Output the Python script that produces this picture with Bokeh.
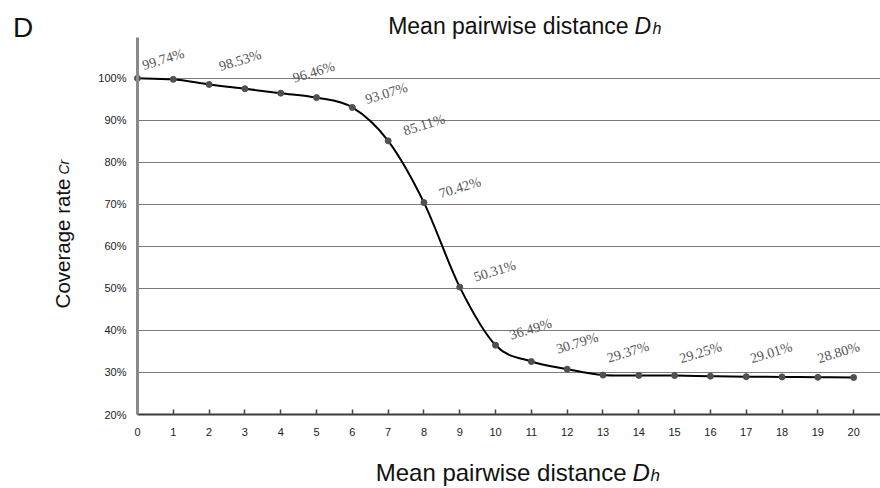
import numpy as np
from bokeh.plotting import figure
from bokeh.models import (ColumnDataSource, Range1d, FixedTicker, PrintfTickFormatter, Label,
                          LinearAxis, Grid)
from bokeh.core.properties import value
from bokeh.embed import file_html
from bokeh.resources import INLINE

# ---- data ----
distance = list(range(21))
coverage = [100.00, 99.74, 98.53, 97.50, 96.46, 95.40, 93.07, 85.11, 70.42, 50.31,
            36.49, 32.60, 30.79, 29.37, 29.30, 29.25, 29.12, 29.01, 28.95, 28.86, 28.80]
labeled_idx = [1, 2, 4, 6, 7, 8, 9, 10, 12, 13, 15, 17, 20]
x_ticks = list(range(21))
y_ticks = [20, 30, 40, 50, 60, 70, 80, 90, 100]
grid_ticks = [30, 40, 50, 60, 70, 80, 90, 100]

# label offsets in pixels (style, not data)
label_dx = [-10, 31, 33, 34, 36, 36, 35, 35, 10, 25, 26, 25, -15]
label_dy = [-20, -24, -21, -14, -16, -15, -16, -16, -26, -23, -23, -24, -25]

SANS = "Liberation Sans"
SERIF = "Liberation Serif"

W, H = 880, 488
PL, PB, PT = 137, 414, 37          # plot-area edges on the page
X_END = 20.75
Y_START, Y_END = 20.0, 109.7
kx = (W - PL) / X_END
ky = (PB - PT) / (Y_END - Y_START)
x_range = Range1d(-PL / kx, X_END)
y_range = Range1d(Y_START - (H - PB) / ky, Y_START + PB / ky)

p = figure(width=W, height=H, x_range=x_range, y_range=y_range, title=None,
           output_backend="svg", toolbar_location=None, x_axis_type=None, y_axis_type=None,
           min_border=0, min_border_left=0, min_border_right=0, min_border_top=0,
           min_border_bottom=0)
p.outline_line_color = None
p.background_fill_color = "white"
p.border_fill_color = "white"
p.xgrid.visible = False
p.ygrid.visible = False

# x axis (fixed at the 20% level)
xa = LinearAxis(fixed_location=Y_START, bounds=(0, X_END))
xa.ticker = FixedTicker(ticks=x_ticks)
xa.minor_tick_line_color = None
xa.major_tick_in = 5
xa.major_tick_out = 0
xa.major_tick_line_color = "#444444"
xa.major_tick_line_width = 1.5
xa.axis_line_color = "#3a3a3a"
xa.axis_line_width = 2
xa.major_label_text_font = SANS
xa.major_label_text_font_size = "11px"
xa.major_label_text_color = "#222222"
xa.major_label_standoff = 13
p.add_layout(xa, "below")

# y axis (fixed at distance 0)
ya = LinearAxis(fixed_location=0, bounds=(Y_START, Y_END))
ya.ticker = FixedTicker(ticks=y_ticks)
ya.formatter = PrintfTickFormatter(format="%d%%")
ya.minor_tick_line_color = None
ya.major_tick_in = 0
ya.major_tick_out = 0
ya.axis_line_color = "#8a8a8a"
ya.axis_line_width = 3
ya.major_label_text_font = SANS
ya.major_label_text_font_size = "11px"
ya.major_label_text_color = "#222222"
ya.major_label_standoff = 11
p.add_layout(ya, "left")

# horizontal grid lines
if "cross_bounds" in Grid.properties():
    g = Grid(dimension=1, ticker=FixedTicker(ticks=grid_ticks), axis=ya,
             grid_line_color="#7a7a7a", grid_line_width=1.2)
    g.cross_bounds = (0, X_END)
    p.add_layout(g)
else:
    p.segment(x0=[0] * len(grid_ticks), x1=[X_END] * len(grid_ticks), y0=grid_ticks,
              y1=grid_ticks, line_color="#7a7a7a", line_width=1.2, level="underlay")

# smoothed line via cubic Bezier segments (Catmull-Rom control points)
xs = np.array(distance, dtype=float)
ys = np.array(coverage, dtype=float)
n = len(xs)
xp = np.concatenate([[xs[0]], xs, [xs[-1]]])
yp = np.concatenate([[ys[0]], ys, [ys[-1]]])
seg = dict(x0=[], y0=[], x1=[], y1=[], cx0=[], cy0=[], cx1=[], cy1=[])
for i in range(n - 1):
    j = i + 1
    seg["x0"].append(xp[j]); seg["y0"].append(yp[j])
    seg["x1"].append(xp[j + 1]); seg["y1"].append(yp[j + 1])
    seg["cx0"].append(xp[j] + (xp[j + 1] - xp[j - 1]) / 6.0)
    seg["cy0"].append(yp[j] + (yp[j + 1] - yp[j - 1]) / 6.0)
    seg["cx1"].append(xp[j + 1] - (xp[j + 2] - xp[j]) / 6.0)
    seg["cy1"].append(yp[j + 1] - (yp[j + 2] - yp[j]) / 6.0)
p.bezier(x0="x0", y0="y0", x1="x1", y1="y1", cx0="cx0", cy0="cy0", cx1="cx1", cy1="cy1",
         source=ColumnDataSource(seg), line_color="black", line_width=2)

p.scatter(distance, coverage, marker="circle", size=6, fill_color="#505050", line_color="#505050")

# data labels
lab_src = ColumnDataSource(dict(
    x=[distance[i] for i in labeled_idx],
    y=[coverage[i] for i in labeled_idx],
    t=["%.2f%%" % coverage[i] for i in labeled_idx],
    dx=label_dx, dy=label_dy,
))
p.text(x="x", y="y", text="t", source=lab_src, angle=0.3, x_offset="dx", y_offset="dy",
       text_align="center", text_baseline="middle", text_font=value(SERIF),
       text_font_size="14px", text_color="#555555")

# page texts (frame covers the whole page; screen units from bottom-left)
def lab(cx, cy, text, size, style="normal", align="left", angle=0.0):
    shift = 0.3 * size
    if angle:
        cx -= shift
    else:
        cy -= shift
    p.add_layout(Label(x=cx, y=H - cy, x_units="screen", y_units="screen", text=text,
                       text_font=SANS, text_font_size="%gpx" % size, text_font_style=style,
                       text_align=align, text_baseline="alphabetic", text_color="#111111",
                       angle=angle))

lab(12.5, 35, "D", 28)
# title
lab(628, 32, "Mean pairwise distance", 23, align="right")
lab(634, 32, "D", 23, style="italic")
lab(652, 33, "h", 16, style="italic")
# x label
lab(626, 479, "Mean pairwise distance", 24, align="right")
lab(632, 479, "D", 24, style="italic")
lab(650, 480, "h", 17, style="italic")
# y label
lab(68, 178, "Coverage rate", 20.5, align="right", angle=np.pi / 2)
lab(68, 174, "Cr", 14, style="italic", angle=np.pi / 2)

open("out.html", "w").write(file_html(p, INLINE))
